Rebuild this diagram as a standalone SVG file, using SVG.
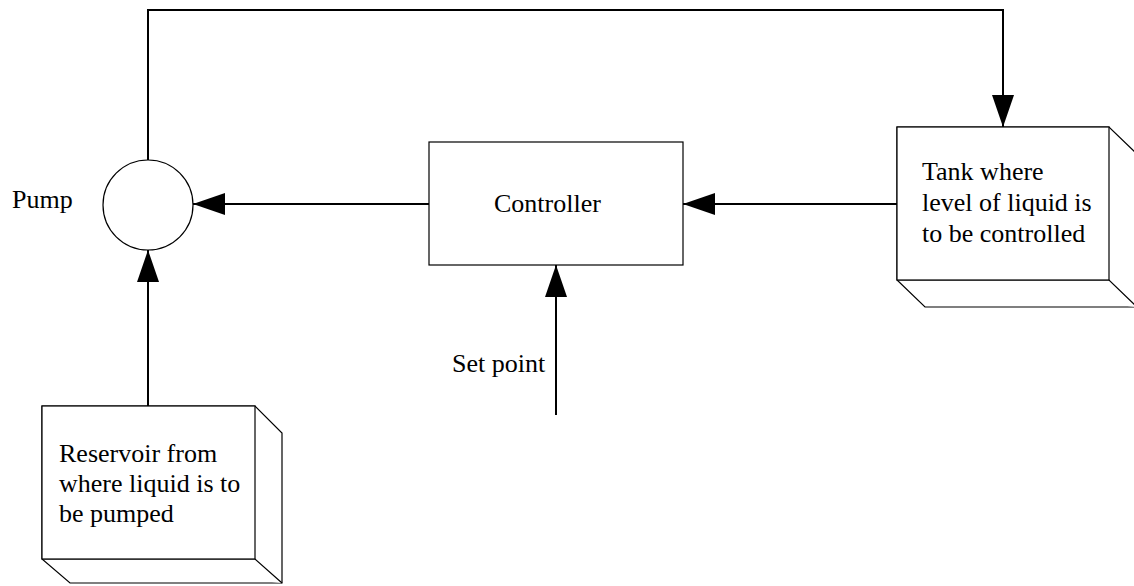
<svg xmlns="http://www.w3.org/2000/svg" width="1134" height="586" viewBox="0 0 1134 586">
<style>
.shape{fill:#fff;stroke:#000;stroke-width:1.2}
.edge{fill:none;stroke:#000;stroke-width:2}
.lbl{font-family:"Liberation Serif","Times New Roman",serif;font-size:26px;fill:#000}
</style>
<defs>
<marker id="ah" markerUnits="userSpaceOnUse" markerWidth="32" markerHeight="22" refX="32" refY="11" orient="auto" viewBox="0 0 32 22">
<path d="M0,0 L32,11 L0,22 Z" fill="#000"/>
</marker>
</defs>
<rect width="1134" height="586" fill="#fff"/>
<g id="tank">
<path class="shape" d="M897,127 L1109,127 L1137,154 L1137,307 L925,307 L897,280 Z"/>
<path class="shape" d="M897,280 L1109,280 L1137,307" fill="none"/>
<rect class="shape" x="897" y="127" width="212" height="153"/>
<text class="lbl" x="922" y="180">Tank where</text>
<text class="lbl" x="922" y="211">level of liquid is</text>
<text class="lbl" x="922" y="242">to be controlled</text>
</g>
<g id="reservoir">
<path class="shape" d="M42,406 L255,406 L282,433 L282,583 L70,583 L42,559 Z"/>
<path class="shape" d="M42,559 L255,559 L282,583" fill="none"/>
<rect class="shape" x="42" y="406" width="213" height="153"/>
<text class="lbl" x="59" y="462">Reservoir from</text>
<text class="lbl" x="59" y="492">where liquid is to</text>
<text class="lbl" x="59" y="522">be pumped</text>
</g>
<g id="controller">
<rect class="shape" x="429" y="142" width="254" height="123"/>
<text class="lbl" x="494" y="212">Controller</text>
</g>
<g id="pump">
<circle class="shape" cx="148" cy="205" r="45"/>
<text class="lbl" x="12" y="208">Pump</text>
</g>
<g id="setpoint">
<text class="lbl" x="452" y="372">Set point</text>
</g>
<g id="connectors">
<path class="edge" d="M148,160 L148,10 L1003,10 L1003,127" marker-end="url(#ah)"/>
<path class="edge" d="M897,204 L683,204" marker-end="url(#ah)"/>
<path class="edge" d="M429,204 L193,204" marker-end="url(#ah)"/>
<path class="edge" d="M556,415 L556,265" marker-end="url(#ah)"/>
<path class="edge" d="M148,406 L148,250" marker-end="url(#ah)"/>
</g>
</svg>
